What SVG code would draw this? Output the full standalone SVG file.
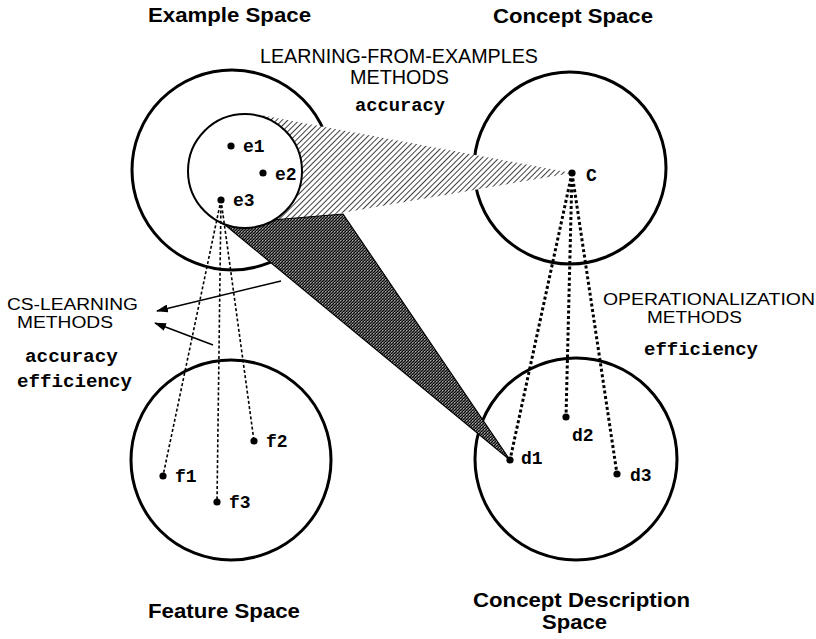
<svg xmlns="http://www.w3.org/2000/svg" width="816" height="639" viewBox="0 0 816 639">
  <style>
    .space { fill: none; stroke: #000; stroke-width: 3; }
    .inner { fill: #fff; stroke: #000; stroke-width: 2; }
    .pt { fill: #000; }
    .lbl { font-family: "Liberation Mono", "Courier New", monospace; font-weight: bold; font-size: 18px; fill: #000; }
    .title { font-family: "Liberation Sans", Arial, Helvetica, sans-serif; font-weight: bold; font-size: 21px; fill: #000; }
    .method { font-family: "Liberation Sans", Arial, Helvetica, sans-serif; font-size: 19.5px; fill: #000; }
    .method2 { font-family: "Liberation Sans", Arial, Helvetica, sans-serif; font-size: 16px; fill: #000; }
    .crit { font-family: "Liberation Mono", "Courier New", monospace; font-weight: bold; font-size: 18px; fill: #000; }
    .fine { fill: none; stroke: #000; stroke-width: 1.6; stroke-dasharray: 3 2.2; }
    .coarse { fill: none; stroke: #000; stroke-width: 3; stroke-dasharray: 3 2.5; }
    .arrow { fill: none; stroke: #000; stroke-width: 1.5; marker-end: url(#head); }
  </style>
  <defs>
    <pattern id="hatch" width="4" height="4" patternUnits="userSpaceOnUse" patternTransform="rotate(45)">
      <rect width="4" height="4" fill="#fff"/>
      <line x1="0" y1="0" x2="0" y2="4" stroke="#000" stroke-width="1.5"/>
    </pattern>
    <!-- fine dot screen for the dark wedge -->
    <pattern id="stipple" width="3" height="3" patternUnits="userSpaceOnUse">
      <rect width="3" height="3" fill="#5c5c5c"/>
      <rect x="0" y="0" width="1" height="1" fill="#000"/>
      <rect x="2" y="1" width="1" height="1" fill="#111"/>
      <rect x="1" y="2" width="1" height="1" fill="#000"/>
      <rect x="1" y="0" width="1" height="1" fill="#a8a8a8"/>
    </pattern>
    <marker id="head" viewBox="0 0 12 8" refX="11" refY="4" markerWidth="12" markerHeight="8" markerUnits="userSpaceOnUse" orient="auto">
      <path d="M0,0 L12,4 L0,8 Z" fill="#000"/>
    </marker>
  </defs>

  <!-- the four spaces -->
  <g id="example-space">
    <circle class="space" cx="232" cy="170" r="100"/>
  </g>
  <g id="concept-space">
    <circle class="space" cx="570" cy="168" r="96"/>
  </g>
  <g id="feature-space">
    <circle class="space" cx="231" cy="460" r="100"/>
  </g>
  <g id="description-space">
    <circle class="space" cx="576" cy="459" r="101"/>
  </g>

  <!-- mappings between spaces -->
  <g id="connectors">
    <polygon id="learning-map" points="572,173 255,114 255,228" fill="url(#hatch)"/>
    <polygon id="cs-learning-map" points="224,224 343,214 510,460" fill="url(#stipple)" stroke="#000" stroke-width="1.2" stroke-linejoin="round"/>
  </g>

  <!-- example subset -->
  <g id="examples">
    <circle class="inner" cx="245" cy="171" r="57"/>
  </g>

  <g id="links">
    <line class="fine" x1="221" y1="200" x2="163" y2="476"/>
    <line class="fine" x1="221" y1="200" x2="217" y2="502"/>
    <line class="fine" x1="221" y1="200" x2="254" y2="441"/>
    <line class="coarse" x1="572" y1="173" x2="510" y2="460"/>
    <line class="coarse" x1="572" y1="173" x2="566" y2="417"/>
    <line class="coarse" x1="572" y1="173" x2="617" y2="474"/>
    <line class="arrow" x1="281" y1="281" x2="157" y2="311"/>
    <line class="arrow" x1="213" y1="345" x2="155" y2="323"/>
  </g>

  <!-- points -->
  <g id="e1"><circle class="pt" cx="231" cy="146" r="3.6"/><text class="lbl" x="243" y="152">e1</text></g>
  <g id="e2"><circle class="pt" cx="263" cy="173" r="3.6"/><text class="lbl" x="275" y="180">e2</text></g>
  <g id="e3"><circle class="pt" cx="221" cy="200" r="3.6"/><text class="lbl" x="233" y="206">e3</text></g>
  <g id="c"><circle class="pt" cx="572" cy="173" r="3.6"/><text class="lbl" x="586" y="181">C</text></g>
  <g id="f1"><circle class="pt" cx="163" cy="476" r="3.6"/><text class="lbl" x="175" y="482">f1</text></g>
  <g id="f2"><circle class="pt" cx="254" cy="441" r="3.6"/><text class="lbl" x="266" y="447">f2</text></g>
  <g id="f3"><circle class="pt" cx="217" cy="502" r="3.6"/><text class="lbl" x="229" y="508">f3</text></g>
  <g id="d1"><circle class="pt" cx="510" cy="460" r="3.6"/><text class="lbl" x="521" y="464">d1</text></g>
  <g id="d2"><circle class="pt" cx="566" cy="417" r="3.6"/><text class="lbl" x="572" y="441">d2</text></g>
  <g id="d3"><circle class="pt" cx="617" cy="474" r="3.6"/><text class="lbl" x="630" y="481">d3</text></g>

  <!-- space titles -->
  <g id="titles">
    <text class="title" x="148" y="22" textLength="163" lengthAdjust="spacingAndGlyphs">Example Space</text>
    <text class="title" x="493" y="23" textLength="160" lengthAdjust="spacingAndGlyphs">Concept Space</text>
    <text class="title" x="148" y="618" textLength="152" lengthAdjust="spacingAndGlyphs">Feature Space</text>
    <text class="title" x="473" y="607" textLength="217" lengthAdjust="spacingAndGlyphs">Concept Description</text>
    <text class="title" x="542" y="629" textLength="65" lengthAdjust="spacingAndGlyphs">Space</text>
  </g>

  <!-- method labels -->
  <g id="lfe-label">
    <text class="method" x="260" y="63" textLength="278" lengthAdjust="spacingAndGlyphs">LEARNING-FROM-EXAMPLES</text>
    <text class="method" x="350" y="84" textLength="99" lengthAdjust="spacingAndGlyphs">METHODS</text>
    <text class="crit" x="355" y="111" textLength="90" lengthAdjust="spacingAndGlyphs">accuracy</text>
  </g>
  <g id="cs-label">
    <text class="method2" x="7" y="310" textLength="131" lengthAdjust="spacingAndGlyphs">CS-LEARNING</text>
    <text class="method2" x="17" y="328" textLength="96" lengthAdjust="spacingAndGlyphs">METHODS</text>
    <text class="crit" x="25" y="362" textLength="93" lengthAdjust="spacingAndGlyphs">accuracy</text>
    <text class="crit" x="17" y="387" textLength="115" lengthAdjust="spacingAndGlyphs">efficiency</text>
  </g>
  <g id="op-label">
    <text class="method2" x="603" y="305" textLength="212" lengthAdjust="spacingAndGlyphs">OPERATIONALIZATION</text>
    <text class="method2" x="647" y="323" textLength="95" lengthAdjust="spacingAndGlyphs">METHODS</text>
    <text class="crit" x="644" y="355" textLength="114" lengthAdjust="spacingAndGlyphs">efficiency</text>
  </g>
</svg>
